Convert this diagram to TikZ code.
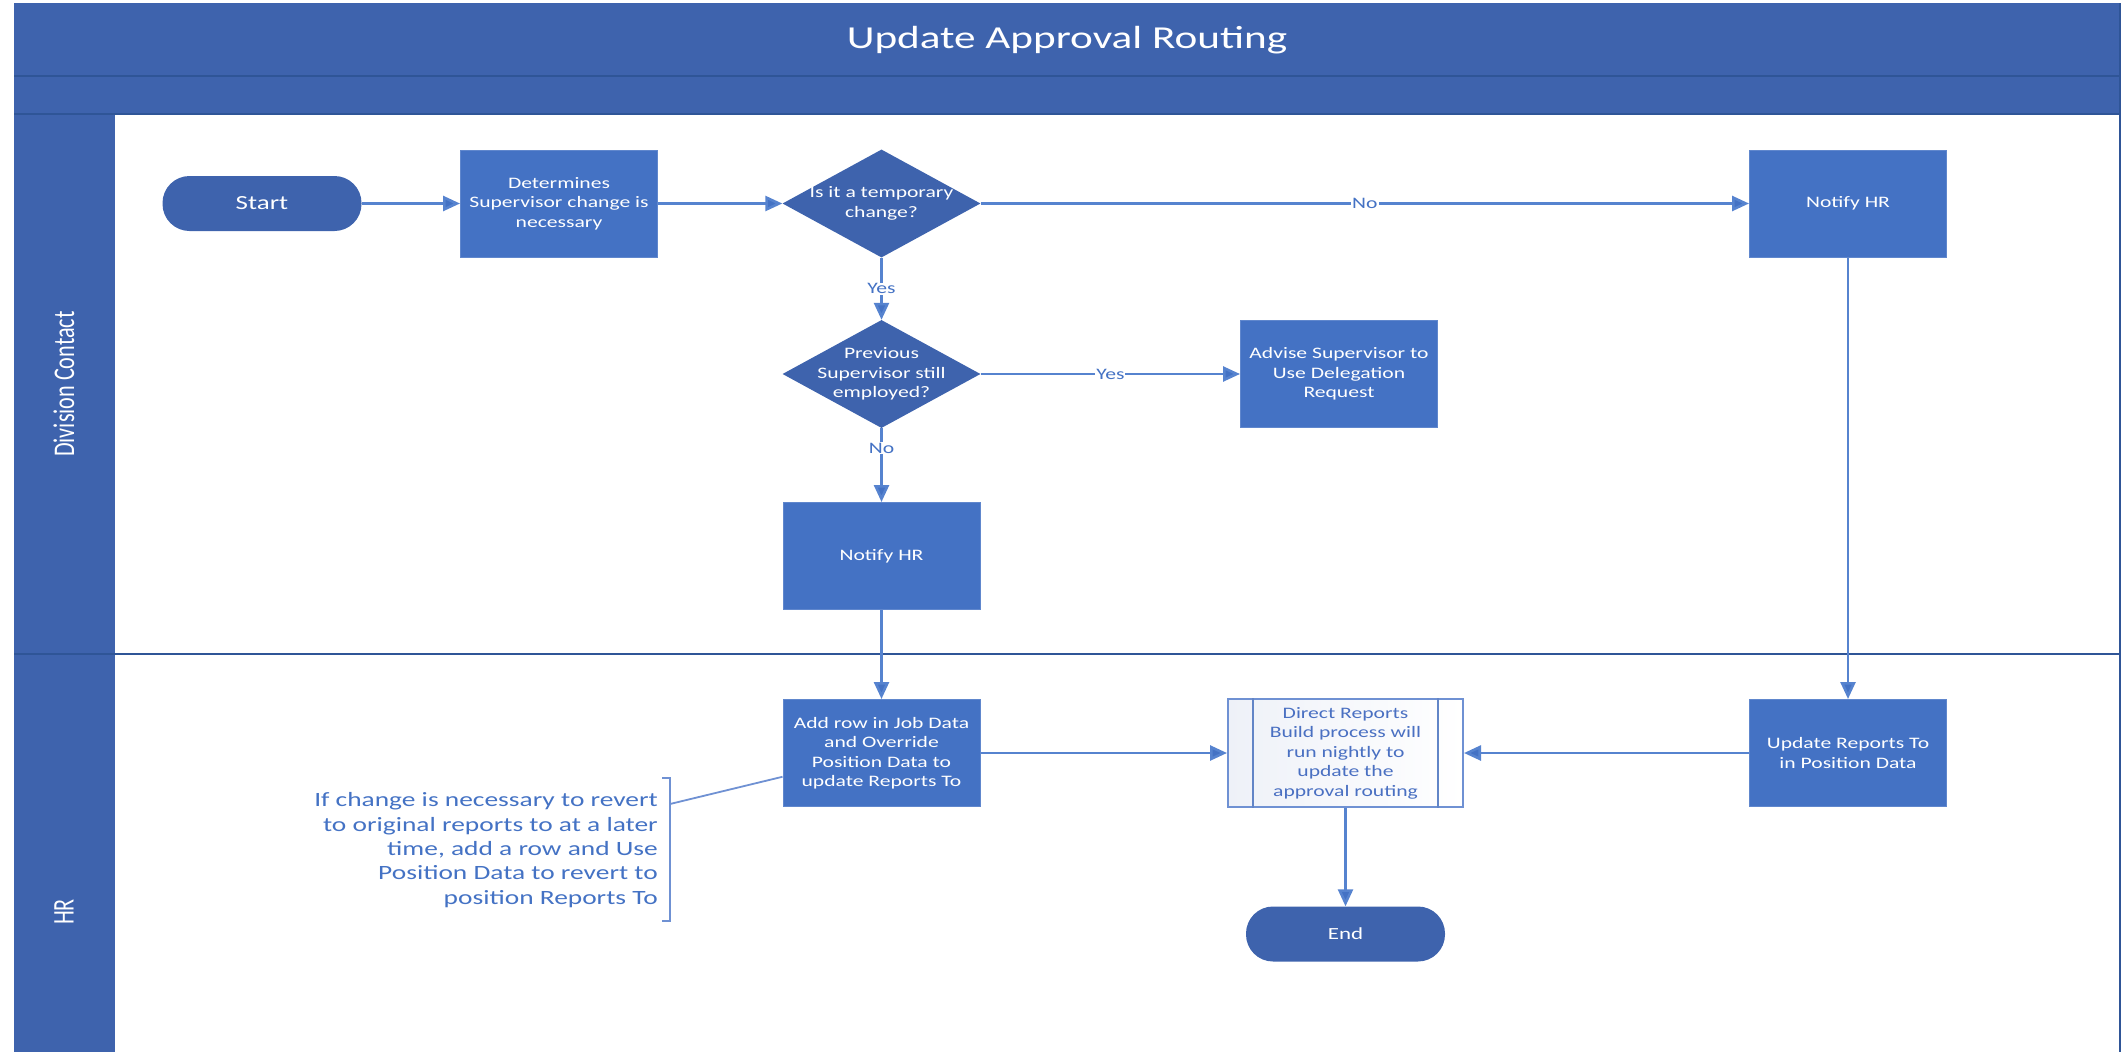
\documentclass[tikz,border=0pt]{standalone}
\usepackage{fontspec}
\setmainfont{Carlito}[FakeStretch=1.35]
\newfontfamily\lanefont{Carlito}[FakeStretch=0.74]
\usetikzlibrary{shapes.geometric,arrows.meta,calc}
\definecolor{band}{HTML}{3E63AD}
\definecolor{boxblue}{HTML}{4472C4}
\definecolor{linkblue}{HTML}{5683CF}
\definecolor{edgeblue}{HTML}{2F5597}
\definecolor{txtblue}{HTML}{4A70C2}
\definecolor{drfill}{HTML}{EEF1F8}
\definecolor{drline}{HTML}{6F91D3}
\begin{document}
\begin{tikzpicture}[x=1pt,y=-1pt,
  boxtext/.style={font=\fontsize{16}{19.5}\selectfont},
  procbox/.style={rectangle, fill=boxblue, draw=boxblue!85!white, line width=1pt,
    minimum width=197pt, minimum height=107pt, align=center, text=white, boxtext, inner sep=2pt},
  term/.style={rectangle, rounded corners=27pt, fill=band, minimum width=199pt,
    minimum height=55pt, text=white},
  decision/.style={diamond, fill=band, minimum width=198pt, minimum height=108pt, inner sep=0pt},
  dtext/.style={align=center, text=white, boxtext},
  link/.style={line width=2.6pt, draw=linkblue, -{Triangle[length=17pt,width=15pt,fill=boxblue]}},
  lbl/.style={fill=white, text=boxblue, boxtext, inner sep=1pt},
  lanelab/.style={rotate=90, text=white, font=\lanefont\fontsize{30}{34}\selectfont},
  annline/.style={line width=1.8pt, draw=drline}
]
\useasboundingbox (0,0) rectangle (2128,1052);
% pool and lanes
\fill[band] (14,3) rectangle (2120,114);
\fill[band] (14,114) rectangle (115,1052);
\draw[edgeblue, line width=2pt] (14,76) -- (2120,76);
\draw[edgeblue, line width=1.5pt] (14,114) -- (2120,114);
\draw[edgeblue, line width=2.6pt] (14,654) -- (2120,654);
\draw[edgeblue, line width=1.5pt] (2120,3) -- (2120,1052);
\node[text=white, font=\fontsize{32}{38}\selectfont] (title) at (1067,40) {Update Approval Routing};
\node[lanelab] (lane1) at (64,384) {Division Contact};
\node[lanelab] (lane2) at (64,912) {HR};
% nodes
\node[term, font=\fontsize{20}{24}\selectfont] (start) at (262,203.5) {Start};
\node[procbox] (det) at (559,203.5) {Determines\\Supervisor change is\\necessary};
\node[decision, label={[dtext]center:Is it a temporary\\change?}] (d1) at (881.5,203.5) {};
\node[procbox] (nhr1) at (1848,203.5) {Notify HR};
\node[decision, label={[dtext]center:Previous\\Supervisor still\\employed?}] (d2) at (881.5,374) {};
\node[procbox] (adv) at (1339,374) {Advise Supervisor to\\Use Delegation\\Request};
\node[procbox] (nhr2) at (881.5,556) {Notify HR};
\node[procbox] (add) at (881.5,753) {Add row in Job Data\\and Override\\Position Data to\\update Reports To};
\node[rectangle, draw=drline, line width=2pt, left color=drfill, right color=white,
  minimum width=235pt, minimum height=108pt, align=center, text=txtblue, boxtext] (dr) at (1345.5,753)
  {Direct Reports\\Build process will\\run nightly to\\update the\\approval routing};
\draw[drline!80!edgeblue, line width=2pt] ([xshift=26pt]dr.north west) -- ([xshift=26pt]dr.south west);
\draw[drline!80!edgeblue, line width=2pt] ([xshift=-26pt]dr.north east) -- ([xshift=-26pt]dr.south east);
\node[procbox] (upd) at (1848,753) {Update Reports To\\in Position Data};
\node[term, font=\fontsize{17}{20}\selectfont] (end) at (1345.5,934) {End};
% annotation
\node[anchor=east, align=right, text=boxblue, font=\fontsize{20.3}{24.3}\selectfont, inner sep=0pt] (note) at (658,850)
  {If change is necessary to revert\\to original reports to at a later\\time, add a row and Use\\Position Data to revert to\\position Reports To};
\coordinate (btop) at (670,778);
\coordinate (bbot) at (670,921);
\coordinate (bmid) at (670,804);
\draw[annline] ([xshift=-8pt]btop) -- (btop) -- (bbot) -- ([xshift=-8pt]bbot);
\draw[annline] (bmid) -- ($(add.south west)!0.28!(add.north west)$);
% connectors
\draw[link] (start) -- (det);
\draw[link] (det) -- (d1);
\draw[link] (d1) -- node[lbl, pos=0.5] {No} (nhr1);
\draw[link] (d1) -- node[lbl, pos=0.5] {Yes} (d2);
\draw[link] (d2) -- node[lbl, pos=0.5] {Yes} (adv);
\draw[link] (d2) -- node[lbl, pos=0.27] {No} (nhr2);
\draw[link] (nhr2) -- (add);
\draw[link] (nhr1) -- (upd);
\draw[link] (add) -- (dr);
\draw[link] (upd) -- (dr);
\draw[link] (dr) -- (end);
\end{tikzpicture}
\end{document}
